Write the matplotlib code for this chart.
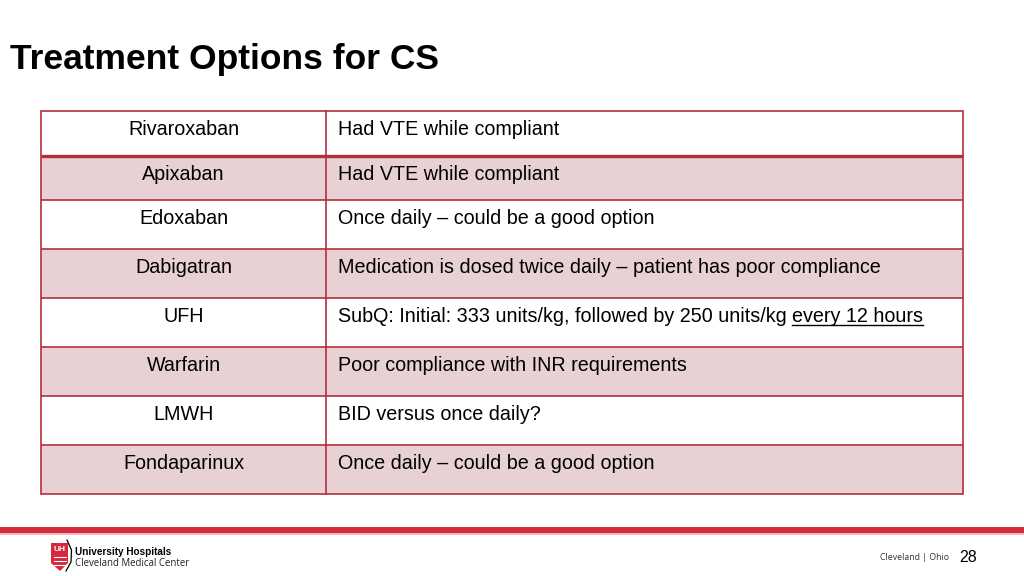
import matplotlib
matplotlib.use("Agg")
import matplotlib.pyplot as plt
from matplotlib.patches import Rectangle, Polygon
import numpy as np

plt.rcParams['font.family'] = ['Liberation Sans', 'DejaVu Sans']

title = "Treatment Options for CS"
drugs = ["Rivaroxaban", "Apixaban", "Edoxaban", "Dabigatran", "UFH",
         "Warfarin", "LMWH", "Fondaparinux"]
notes = ["Had VTE while compliant",
         "Had VTE while compliant",
         "Once daily \u2013 could be a good option",
         "Medication is dosed twice daily \u2013 patient has poor compliance",
         "SubQ: Initial: 333 units/kg, followed by 250 units/kg ",
         "Poor compliance with INR requirements",
         "BID versus once daily?",
         "Once daily \u2013 could be a good option"]
underlined = {4: "every 12 hours"}
shaded = [False, True, False, True, False, True, False, True]
page_number = "28"

W, H = 1024, 576
fig = plt.figure(figsize=(W / 100, H / 100), dpi=100)
ax = fig.add_axes([0, 0, 1, 1])
ax.set_xlim(0, W)
ax.set_ylim(H, 0)
ax.axis('off')

border = "#B3303C"
fill = "#E8D1D4"
fs = 14.2

# title
ax.text(10, 59.5, title, fontsize=25.5, fontweight='bold', va='center', ha='left', color='black')

# table
x0, xm, x1 = 41, 326, 963
top = 111
row_heights = [45, 44, 49, 49, 49, 49, 49, 49]
edges = top + np.concatenate([[0], np.cumsum(row_heights)])

fig.canvas.draw()
renderer = fig.canvas.get_renderer()

for i, (d, n) in enumerate(zip(drugs, notes)):
    y_top, y_bot = edges[i], edges[i + 1]
    if shaded[i]:
        ax.add_patch(Rectangle((x0, y_top), x1 - x0, y_bot - y_top, facecolor=fill,
                               edgecolor='none', zorder=1))
    ty = y_top + 18.8
    ax.text((x0 + xm) / 2, ty, d, fontsize=fs, ha='center', va='center', color='black', zorder=3)
    t = ax.text(338, ty, n, fontsize=fs, ha='left', va='center', color='black', zorder=3)
    if i in underlined:
        bb = t.get_window_extent(renderer=renderer)
        inv = ax.transData.inverted()
        xe = inv.transform((bb.x1, 0))[0]
        t2 = ax.text(xe, ty, underlined[i], fontsize=fs, ha='left', va='center',
                     color='black', zorder=3)
        bb2 = t2.get_window_extent(renderer=renderer)
        xe2 = inv.transform((bb2.x1, 0))[0]
        ax.plot([xe, xe2], [ty + 8.5, ty + 8.5], color='black', lw=1.0, zorder=3)

# grid lines
for j, y in enumerate(edges):
    lw = 2.4 if j == 1 else 1.2
    ax.plot([x0, x1], [y, y], color=border, lw=lw, zorder=4, solid_capstyle='butt')
for x in (x0, xm, x1):
    ax.plot([x, x], [edges[0], edges[-1]], color=border, lw=1.2, zorder=4)

# footer bar
ax.add_patch(Rectangle((0, 527), W, 6, facecolor="#D42A3C", edgecolor='none', zorder=2))
ax.add_patch(Rectangle((0, 533), W, 1.5, facecolor="#F2B5BB", edgecolor='none', zorder=2))

# logo
shield = Polygon([(51, 543), (68, 543), (68, 563), (60, 571), (51, 563)], closed=True,
                 facecolor="#D42A3C", edgecolor='none', zorder=3)
ax.add_patch(shield)
ax.text(59.5, 549.5, "UH", fontsize=6, fontweight='bold', color='white', ha='center', va='center', zorder=4)
for yy in (557, 561, 565):
    ax.plot([54, 66], [yy, yy], color='white', lw=0.8, zorder=4)
ax.plot([67, 71.5, 71, 66], [540, 550, 562, 571], color='black', lw=0.9, zorder=4)
ax.text(75, 552, "University Hospitals", fontsize=7.2, fontweight='bold', color='black',
        ha='left', va='center')
ax.text(75, 563, "Cleveland Medical Center", fontsize=6.95, color='#222222',
        ha='left', va='center', family=['Open Sans', 'DejaVu Sans'])

# right footer
ax.text(949, 558, "Cleveland | Ohio", fontsize=6.3, color='#333333', ha='right', va='center',
        family=['Open Sans', 'DejaVu Sans'])
ax.text(959, 557, page_number, fontsize=11.5, color='black', ha='left', va='center')

fig.savefig("out.png", dpi=100)
